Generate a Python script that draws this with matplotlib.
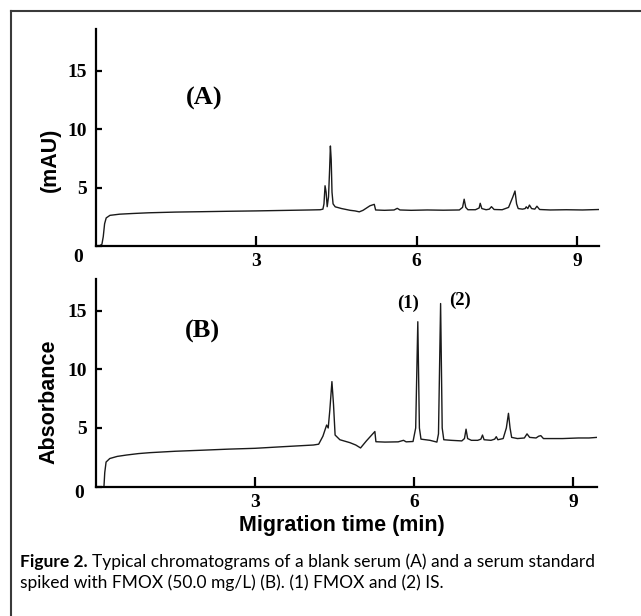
import matplotlib
matplotlib.use("Agg")
import matplotlib.pyplot as plt
import matplotlib.transforms as mtransforms
from matplotlib.lines import Line2D

time_a = [0.00, 0.08, 0.12, 0.145, 0.17, 0.20, 0.27, 0.45, 0.70, 1.00, 1.50, 1.95, 2.50,
          3.00, 3.50, 4.00, 4.20, 4.25, 4.27, 4.29, 4.31, 4.33, 4.355, 4.375, 4.39, 4.405,
          4.42, 4.44, 4.48, 4.60, 4.76, 4.85, 4.93, 5.00, 5.13, 5.21, 5.235, 5.40, 5.58,
          5.64, 5.69, 5.90, 6.20, 6.50, 6.80, 6.86, 6.89, 6.92, 6.96, 7.10, 7.17, 7.19,
          7.22, 7.30, 7.36, 7.40, 7.45, 7.60, 7.72, 7.80, 7.84, 7.87, 7.90, 7.98, 8.03,
          8.05, 8.08, 8.11, 8.15, 8.21, 8.25, 8.30, 8.50, 8.80, 9.10, 9.41]
signal_a = [0.00, 0.02, 0.15, 0.8, 1.9, 2.4, 2.62, 2.72, 2.78, 2.84, 2.90, 2.93, 2.97,
            3.00, 3.04, 3.08, 3.10, 3.15, 3.6, 5.15, 4.6, 3.36, 4.2, 6.5, 8.55, 7.4,
            4.6, 3.6, 3.35, 3.2, 3.05, 3.0, 2.92, 3.05, 3.44, 3.56, 3.08, 3.05, 3.08,
            3.22, 3.08, 3.05, 3.08, 3.06, 3.08, 3.3, 4.0, 3.3, 3.1, 3.1, 3.25, 3.65,
            3.2, 3.1, 3.15, 3.36, 3.12, 3.1, 3.3, 4.2, 4.7, 3.6, 3.2, 3.15, 3.2,
            3.35, 3.2, 3.5, 3.2, 3.15, 3.4, 3.12, 3.08, 3.1, 3.08, 3.12]

time_b = [0.15, 0.165, 0.19, 0.26, 0.40, 0.58, 0.80, 1.02, 1.50, 1.96, 2.50, 3.00, 3.50,
          4.10, 4.20, 4.28, 4.35, 4.38, 4.41, 4.45, 4.48, 4.51, 4.60, 4.79, 4.90, 4.99,
          5.10, 5.26, 5.28, 5.45, 5.70, 5.80, 5.85, 5.98, 6.03, 6.07, 6.10, 6.13, 6.30,
          6.43, 6.46, 6.50, 6.53, 6.56, 6.70, 6.90, 6.95, 6.98, 7.01, 7.08, 7.20, 7.26,
          7.29, 7.32, 7.45, 7.52, 7.55, 7.58, 7.68, 7.74, 7.78, 7.81, 7.84, 7.95, 8.08,
          8.13, 8.18, 8.30, 8.35, 8.39, 8.44, 8.60, 8.80, 9.10, 9.30, 9.45]
signal_b = [0.0, 1.2, 2.1, 2.4, 2.58, 2.7, 2.82, 2.9, 3.02, 3.1, 3.2, 3.27, 3.4,
            3.55, 3.62, 4.3, 5.25, 5.0, 6.5, 8.95, 7.0, 4.4, 4.0, 3.75, 3.55, 3.3,
            3.9, 4.7, 3.83, 3.8, 3.82, 3.95, 3.82, 3.85, 5.0, 14.05, 5.0, 4.05, 3.95,
            3.8, 4.5, 15.6, 5.0, 4.0, 3.95, 3.9, 4.1, 4.9, 4.1, 3.95, 3.95, 4.05,
            4.4, 4.0, 3.95, 4.05, 4.26, 4.0, 4.1, 5.0, 6.25, 5.0, 4.2, 4.1, 4.15,
            4.5, 4.2, 4.15, 4.3, 4.35, 4.1, 4.1, 4.1, 4.15, 4.15, 4.2]

x_ticks = [3, 6, 9]
y_ticks = [0, 5, 10, 15]
panel_labels = ["(A)", "(B)"]
peak_labels = ["(1)", "(2)"]

W, H = 641, 616
fig = plt.figure(figsize=(W / 100, H / 100), dpi=100)


def rect(x0, y_top, x1, y_bot):
    return [x0 / W, 1 - y_bot / H, (x1 - x0) / W, (y_bot - y_top) / H]


serif_bold = dict(family="Liberation Serif", weight="bold")
sans_bold = dict(family="Liberation Sans", weight="bold")


def style_axes(ax, xmax, ymax, zero_dy):
    ax.set_xlim(0, xmax)
    ax.set_ylim(0, ymax)
    for s in ["top", "right"]:
        ax.spines[s].set_visible(False)
    for s in ["left", "bottom"]:
        ax.spines[s].set_linewidth(1.6)
    ax.set_xticks(x_ticks)
    ax.set_yticks(y_ticks)
    ax.tick_params(axis="x", direction="in", length=7, width=1.6, pad=5)
    ax.tick_params(axis="y", direction="in", length=4.5, width=1.6, pad=6.5)
    for lab in ax.get_xticklabels() + ax.get_yticklabels():
        lab.set_fontproperties(serif_bold)
        lab.set_fontsize(14)
    zero = ax.get_yticklabels()[0]
    off = mtransforms.ScaledTranslation(-3 / 100, -zero_dy / 100, fig.dpi_scale_trans)
    zero.set_transform(zero.get_transform() + off)
    ax.patch.set_visible(False)


ax_a = fig.add_axes(rect(95.5, 29, 599, 246))
ax_a.plot(time_a, signal_a, color="#1a1a1a", lw=1.0)
style_axes(ax_a, 9.41, 18.55, 9)
ax_a.text(2.03, 12.6, panel_labels[0], ha="center", va="center", fontsize=19, **serif_bold)

ax_b = fig.add_axes(rect(96, 279, 597, 486.7))
ax_b.plot(time_b, signal_b, color="#1a1a1a", lw=1.0)
style_axes(ax_b, 9.45, 17.69, 4.5)
ax_b.text(2.0, 13.2, panel_labels[1], ha="center", va="center", fontsize=19, **serif_bold)
ax_b.text(5.89, 15.65, peak_labels[0], ha="center", va="center", fontsize=13.5, **serif_bold)
ax_b.text(6.86, 15.85, peak_labels[1], ha="center", va="center", fontsize=13.5, **serif_bold)

fig.text(50 / W, 1 - 160 / H, "(mAU)", rotation=90, ha="center", va="center", fontsize=15.5, **sans_bold)
fig.text(49 / W, 1 - 402 / H, "Absorbance", rotation=90, ha="center", va="center", fontsize=15.5, **sans_bold)
fig.text(342 / W, 1 - 525 / H, "Migration time (min)", ha="center", va="center", fontsize=15.5, **sans_bold)

# frame around the figure (left and top edges visible)
fig.add_artist(Line2D([10.5 / W, 10.5 / W], [0, 1 - 10.5 / H], color="#3a3a3a", lw=1.5,
                      transform=fig.transFigure))
fig.add_artist(Line2D([10.5 / W, 1], [1 - 10.5 / H, 1 - 10.5 / H], color="#3a3a3a", lw=1.5,
                      transform=fig.transFigure))

# caption with bold lead-in
cap_size = 12.5
fig.canvas.draw()
r = fig.canvas.get_renderer()
t1 = fig.text(20 / W, 1 - 567 / H, "Figure 2.", family="Lato", weight="bold", fontsize=cap_size, va="baseline")
bb = t1.get_window_extent(renderer=r)
fig.text((bb.x1 + 4) / W, 1 - 567 / H,
         "Typical chromatograms of a blank serum (A) and a serum standard",
         family="Lato", fontsize=cap_size, va="baseline")
fig.text(20 / W, 1 - 588 / H, "spiked with FMOX (50.0 mg/L) (B). (1) FMOX and (2) IS.",
         family="Lato", fontsize=cap_size, va="baseline")

fig.savefig("out.png", dpi=100)
